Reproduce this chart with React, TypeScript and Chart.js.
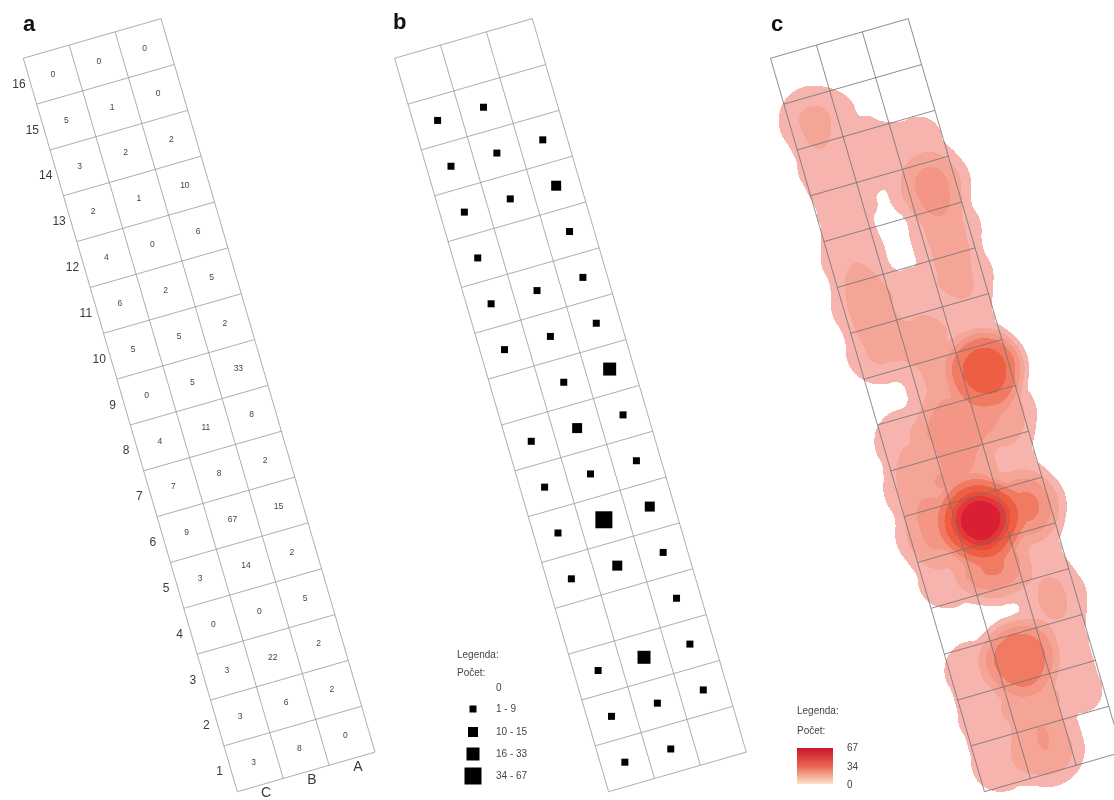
import { useEffect, useRef } from "react";
import { Chart, registerables } from "chart.js";

Chart.register(...registerables);

// Counts per cell, listed from row 1 (bottom) to row 16 (top)
const rowLabels = ["1", "2", "3", "4", "5", "6", "7", "8", "9", "10", "11", "12", "13", "14", "15", "16"];
const columnLabels = ["C", "B", "A"];
const countsC = [3, 3, 3, 0, 3, 9, 7, 4, 0, 5, 6, 4, 2, 3, 5, 0];
const countsB = [8, 6, 22, 0, 14, 67, 8, 11, 5, 5, 2, 0, 1, 2, 1, 0];
const countsA = [0, 2, 2, 5, 2, 15, 2, 8, 33, 2, 5, 6, 10, 2, 0, 0];
const counts = [countsC, countsB, countsA];

const classUpper = [9, 15, 33, 67];
const classLabels = ["1 - 9", "10 - 15", "16 - 33", "34 - 67"];
const rampLabels = ["67", "34", "0"];

// Geometry of the tilted grids
const W = 1114;
const H = 800;
const COL = { x: 45.9, y: -13.2 };
const UP = { x: -13.375, y: -45.84 };
const ORIGIN_Y = 791.7;
const ORIGIN_A = 237.3;
const ORIGIN_B = 608.6;
const ORIGIN_C = 984.5;
const classSide = [7, 10, 13, 17];

const project = (ox: number, col: number, row: number) => ({
  x: ox + col * COL.x + row * UP.x,
  y: ORIGIN_Y + col * COL.y + row * UP.y,
});

const sideToRadius = (s: number) => s * Math.SQRT1_2;
const classOf = (v: number) => classUpper.findIndex((u) => v <= u);

function gridLines(ox: number, color: string, order: number) {
  const out: any[] = [];
  const line = (a: any, b: any) => ({
    type: "scatter",
    data: [a, b],
    showLine: true,
    borderColor: color,
    borderWidth: 0.8,
    pointRadius: 0,
    order,
  });
  for (let r = 0; r <= rowLabels.length; r++) {
    out.push(line(project(ox, 0, r), project(ox, columnLabels.length, r)));
  }
  for (let c = 0; c <= columnLabels.length; c++) {
    out.push(line(project(ox, c, 0), project(ox, c, rowLabels.length)));
  }
  return out;
}

// Kernel density of the counts (panel c), split into contour classes
const BAND = 48;
const densityLevels = [1.2, 4.2, 8, 13, 22.5, 35, 43, 52];
const levelColors = ["#f7b3ad", "#f5a596", "#f39686", "#f07a62", "#ee5e42", "#ea4d3a", "#e33838", "#d91f33"];

function densityDatasets() {
  const buckets: { x: number; y: number }[][] = densityLevels.map(() => []);
  const cells: { x: number; y: number; v: number }[] = [];
  counts.forEach((col, c) =>
    col.forEach((v, r) => {
      if (v > 0) cells.push({ ...project(ORIGIN_C, c + 0.5, r + 0.5), v });
    })
  );
  for (let x = 760; x <= W + 2; x += 1) {
    for (let y = 40; y <= H + 2; y += 1) {
      let d = 0;
      for (const cell of cells) {
        const q = ((x - cell.x) ** 2 + (y - cell.y) ** 2) / (BAND * BAND);
        if (q < 1) d += cell.v * (1 - q) * (1 - q);
      }
      let lvl = -1;
      for (let i = 0; i < densityLevels.length; i++) if (d >= densityLevels[i]) lvl = i;
      if (lvl >= 0) buckets[lvl].push({ x, y });
    }
  }
  return buckets.map((data, i) => ({
    type: "scatter",
    data,
    pointStyle: "rect",
    pointRadius: sideToRadius(2),
    pointBorderWidth: 0,
    pointBackgroundColor: levelColors[i],
    order: 30 - i,
  }));
}

function squareDataset() {
  const data: { x: number; y: number; side: number }[] = [];
  counts.forEach((col, c) =>
    col.forEach((v, r) => {
      if (v > 0) data.push({ ...project(ORIGIN_B, c + 0.5, r + 0.5), side: classSide[classOf(v)] });
    })
  );
  return {
    type: "scatter",
    data,
    pointStyle: "rect",
    pointRadius: data.map((d) => sideToRadius(d.side)),
    pointBorderWidth: 0,
    pointBackgroundColor: "#000",
    order: 0,
  };
}

function legendSquares() {
  const ys = [709, 732, 754, 776];
  const data = ys.map((y) => ({ x: 473, y }));
  return {
    type: "scatter",
    data,
    pointStyle: "rect",
    pointRadius: classSide.map(sideToRadius),
    pointBorderWidth: 0,
    pointBackgroundColor: "#000",
    order: 0,
  };
}

const textPlugin = {
  id: "textPlugin",
  afterDatasetsDraw(chart: any) {
    const { ctx, scales } = chart;
    const px = (x: number) => scales.x.getPixelForValue(x);
    const py = (y: number) => scales.y.getPixelForValue(y);
    const put = (t: string, x: number, y: number, font: string, color = "#333", align = "center") => {
      ctx.font = font;
      ctx.fillStyle = color;
      ctx.textAlign = align;
      ctx.textBaseline = "middle";
      ctx.fillText(t, px(x), py(y));
    };
    const sans = '"Liberation Sans", Arial, sans-serif';
    ctx.save();
    // cell values, panel a
    counts.forEach((col, c) =>
      col.forEach((v, r) => {
        const p = project(ORIGIN_A, c + 0.5, r + 0.5);
        put(String(v), p.x, p.y, `8.5px ${sans}`, "#444");
      })
    );
    // row and column labels
    rowLabels.forEach((t, r) => {
      const p = project(ORIGIN_A, -0.24, r + 0.5);
      put(t, p.x, p.y, `12px ${sans}`, "#3a3a3a");
    });
    columnLabels.forEach((t, c) => {
      const p = project(ORIGIN_A, c + 0.57, -0.2);
      put(t, p.x, p.y, `14px ${sans}`, "#3a3a3a");
    });
    // panel letters
    put("a", 23, 25, `bold 22px ${sans}`, "#111", "left");
    put("b", 393, 23, `bold 22px ${sans}`, "#111", "left");
    put("c", 771, 25, `bold 22px ${sans}`, "#111", "left");
    // legend b
    put("Legenda:", 457, 655, `10px ${sans}`, "#444", "left");
    put("Počet:", 457, 673, `10px ${sans}`, "#444", "left");
    put("0", 496, 688, `10px ${sans}`, "#444", "left");
    classLabels.forEach((t, i) => put(t, 496, [709, 732, 754, 776][i], `10px ${sans}`, "#444", "left"));
    // legend c
    put("Legenda:", 797, 711, `10px ${sans}`, "#444", "left");
    put("Počet:", 797, 731, `10px ${sans}`, "#444", "left");
    rampLabels.forEach((t, i) => put(t, 847, [748, 767, 785][i], `10px ${sans}`, "#444", "left"));
    const g = ctx.createLinearGradient(0, py(748), 0, py(784));
    g.addColorStop(0, "#c9142b");
    g.addColorStop(0.5, "#e8654f");
    g.addColorStop(1, "#fbe3cd");
    ctx.fillStyle = g;
    ctx.fillRect(px(797), py(748), 36, 36);
    ctx.restore();
  },
};

export default function App() {
  const ref = useRef<HTMLCanvasElement>(null);
  useEffect(() => {
    const chart = new Chart(ref.current as HTMLCanvasElement, {
      type: "scatter",
      data: {
        datasets: [
          squareDataset(),
          legendSquares(),
          ...gridLines(ORIGIN_A, "#999999", 1),
          ...gridLines(ORIGIN_B, "#999999", 1),
          ...gridLines(ORIGIN_C, "#707070", 1),
          ...densityDatasets(),
        ] as any,
      },
      options: {
        animation: false,
        responsive: false,
        events: [],
        layout: { padding: 0, autoPadding: false },
        plugins: { legend: { display: false }, tooltip: { enabled: false } },
        scales: {
          x: { type: "linear", min: 0, max: W, display: false },
          y: { type: "linear", min: 0, max: H, reverse: true, display: false },
        },
      },
      plugins: [textPlugin],
    } as any);
    return () => chart.destroy();
  }, []);
  return (
    <div style={{ position: "absolute", left: 0, top: 0, width: W, height: H, background: "#fff" }}>
      <canvas ref={ref} width={W} height={H} style={{ display: "block", filter: "blur(0.4px)" }} />
    </div>
  );
}
